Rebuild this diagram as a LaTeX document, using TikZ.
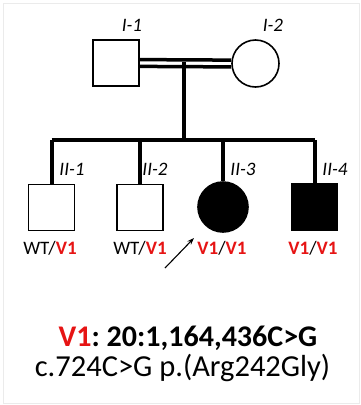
\documentclass[tikz,border=0pt]{standalone}
\usepackage{fontspec}
\setmainfont{Carlito}
\usetikzlibrary{arrows.meta}
\definecolor{vred}{RGB}{230,20,20}
\frenchspacing
\tikzset{
  x=1pt, y=-1pt,
  indiv/.style={draw=black, line width=1.6pt, minimum size=46pt, inner sep=0pt, fill=white},
  male/.style={indiv, rectangle},
  female/.style={indiv, circle},
  affected/.style={fill=black},
  lineline/.style={line width=4pt},
  gen/.style={font=\fontsize{19}{20}\selectfont, inner sep=0pt},
  idlab/.style={font=\fontsize{19}{20}\itshape, inner sep=0pt},
}
\newcommand{\vo}{\textcolor{vred}{\textbf{V1}}}
\begin{document}
\begin{tikzpicture}
\useasboundingbox (0,0) rectangle (361,405);
\draw[black!8, line width=1pt] (3,3) rectangle (359,403);
% generation I
\node[male] (i1) at (116,63) {};
\node[female, minimum size=47pt] (i2) at (255.5,63.5) {};
\node[idlab] (li1) at (132,25) {I-1};
\node[idlab] (li2) at (273,25) {I-2};
\coordinate (m) at (183.5,61.5);
\draw[line width=3.5pt] ([yshift=-3.4pt]i1.east) -- ([yshift=-3.4pt]i2.west);
\draw[line width=3.5pt] ([yshift=3.4pt]i1.east) -- ([yshift=3.4pt]i2.west);
% generation II
\node[male] (c1) at (51.5,207.5) {};
\node[male] (c2) at (140,207.5) {};
\node[female, affected, minimum size=50pt] (c3) at (223,207) {};
\node[male, affected] (c4) at (314.5,207) {};
\coordinate (s) at (183.5,140);
\draw[lineline] (m) -- (s);
\draw[line width=3.6pt] (c1.north |- s) -- (c4.north |- s);
\foreach \c in {c1,c2,c3,c4} \draw[lineline] (\c.north |- s) -- (\c.north);
\node[idlab] (l1) at (72,169) {II-1};
\node[idlab] (l2) at (155,169) {II-2};
\node[idlab] (l3) at (243,169) {II-3};
\node[idlab] (l4) at (335,169) {II-4};
\node[gen] (g1) at (50,248) {WT/\vo};
\node[gen] (g2) at (140,248) {WT/\vo};
\node[gen] (g3) at (222,248) {\vo/\vo};
\node[gen] (g4) at (313,248) {\vo/\vo};
\coordinate (a0) at (165,268);
\coordinate (a1) at (194,238);
\draw[line width=1.1pt, -{Stealth[length=7pt,width=5pt]}] (a0) -- (a1);
% bottom text
\node[inner sep=0pt, font=\fontsize{30}{31}\selectfont\bfseries] (v) at (188,338) {\textcolor{vred}{V1}: 20:1,164,436C>G};
\node[inner sep=0pt, font=\fontsize{30.5}{31}\selectfont] (c) at (182.5,368) {c.724C>G p.(Arg242Gly)};
\end{tikzpicture}
\end{document}
